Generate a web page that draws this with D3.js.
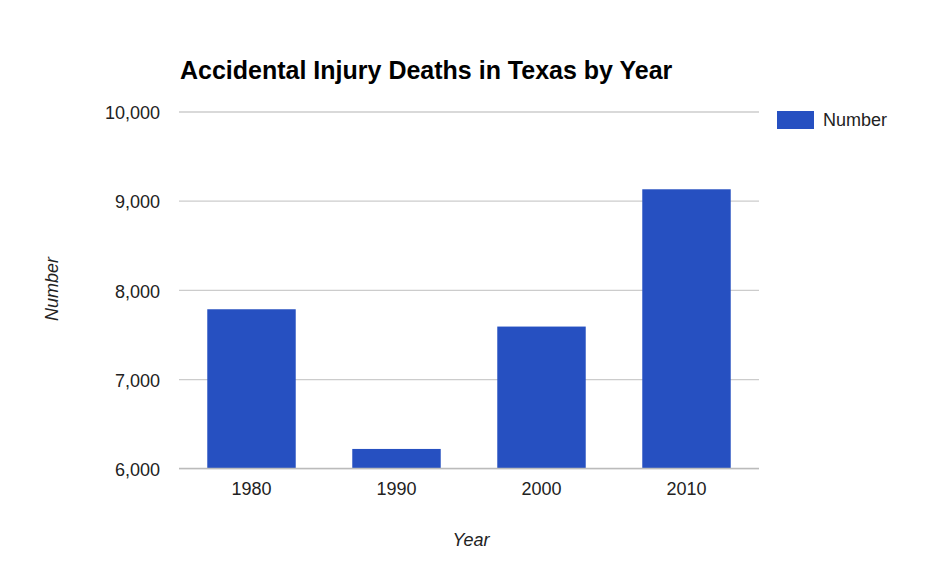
<!DOCTYPE html>
<html>
<head>
<meta charset="utf-8">
<script src="https://cdn.jsdelivr.net/npm/d3@7"></script>
<style>
  body { margin: 0; background: #fff; }
  text { font-family: "Liberation Sans", Arial, sans-serif; }
</style>
</head>
<body>
<div id="chart"></div>
<script>
// data
var years = ["1980", "1990", "2000", "2010"];
var deaths = [7783, 6217, 7589, 9128];
var yTicks = [6000, 7000, 8000, 9000, 10000];
var seriesName = "Number";

var width = 937, height = 581,
    margin = {top: 111.5, right: 178, bottom: 112.7, left: 179};

var svg = d3.select("#chart").append("svg")
    .attr("width", width)
    .attr("height", height);

var x = d3.scaleBand()
    .domain(years)
    .range([margin.left, width - margin.right])
    .paddingInner(0.39)
    .paddingOuter(0.195);

var y = d3.scaleLinear()
    .domain([6000, 10000])
    .range([height - margin.bottom, margin.top]);

//gridlines + y labels
var yAxis = svg.append("g")
    .attr("transform", "translate(" + margin.left + ",0)")
    .call(d3.axisLeft(y).tickValues(yTicks)
        .tickSize(-(width - margin.left - margin.right))
        .tickPadding(19)
        .tickFormat(d3.format(",")));
yAxis.select(".domain").remove();
yAxis.selectAll(".tick line").attr("stroke", "#cccccc").attr("stroke-width", 1.3);
yAxis.selectAll(".tick text")
    .attr("fill", "#222")
    .attr("dy", "0.4em")
    .style("font-size", "18px");

// bars
svg.append("g").selectAll("rect")
    .data(years)
    .join("rect")
    .attr("x", d => x(d))
    .attr("width", x.bandwidth())
    .attr("y", (d, i) => y(deaths[i]))
    .attr("height", (d, i) => y(6000) - y(deaths[i]))
    .attr("fill", "#2650c1");

// baseline drawn again over the bars
svg.append("line")
    .attr("x1", margin.left).attr("x2", width - margin.right)
    .attr("y1", y(6000)).attr("y2", y(6000))
    .attr("stroke", "#bbbbbb").attr("stroke-width", 1.3);

var xAxis = svg.append("g")
    .attr("transform", "translate(0," + y(6000) + ")")
    .call(d3.axisBottom(x).tickSize(0).tickPadding(14));
xAxis.select(".domain").remove();
xAxis.selectAll(".tick text")
    .attr("fill", "#222")
    .style("font-size", "18px");

// title
svg.append("text")
    .attr("x", 180)
    .attr("y", 79)
    .attr("fill", "#000")
    .style("font-size", "25px")
    .style("font-weight", "bold")
    .text("Accidental Injury Deaths in Texas by Year");

// axis titles
svg.append("text")
    .attr("text-anchor", "middle")
    .attr("transform", "translate(58,289) rotate(-90)")
    .attr("fill", "#222")
    .style("font-size", "18px")
    .style("font-style", "italic")
    .text(seriesName);

svg.append("text")
    .attr("text-anchor", "middle")
    .attr("x", 471)
    .attr("y", 546)
    .attr("fill", "#222")
    .style("font-size", "18px")
    .style("font-style", "italic")
    .text("Year");

// legend
var legend = svg.append("g").attr("transform", "translate(777,111)");
legend.append("rect")
    .attr("width", 37).attr("height", 18)
    .attr("fill", "#2650c1");
legend.append("text")
    .attr("x", 46).attr("y", 9)
    .attr("dy", "0.36em")
    .attr("fill", "#222")
    .style("font-size", "18px")
    .text(seriesName);
</script>
</body>
</html>
